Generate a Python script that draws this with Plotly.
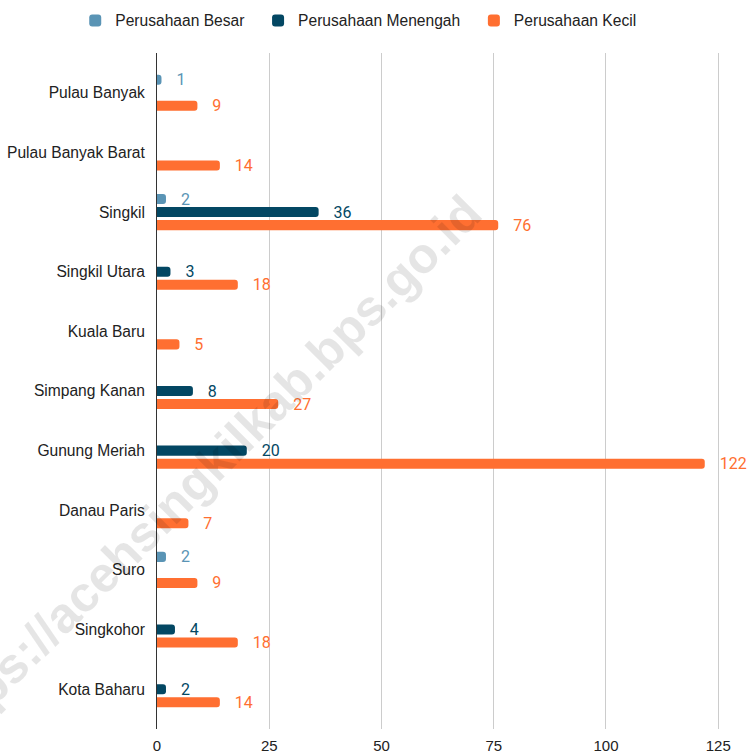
import plotly.graph_objects as go

# data
kecamatan = ["Pulau Banyak", "Pulau Banyak Barat", "Singkil", "Singkil Utara", "Kuala Baru",
             "Simpang Kanan", "Gunung Meriah", "Danau Paris", "Suro", "Singkohor", "Kota Baharu"]
besar = [1, None, 2, None, None, None, None, None, 2, None, None]
menengah = [None, None, 36, 3, None, 8, 20, None, None, 4, 2]
kecil = [9, 14, 76, 18, 5, 27, 122, 7, 9, 18, 14]

series = [
    ("Perusahaan Besar", besar, "#5A94B5"),
    ("Perusahaan Menengah", menengah, "#034763"),
    ("Perusahaan Kecil", kecil, "#FF6F31"),
]

fig = go.Figure()
for name, vals, col in series:
    fig.add_trace(go.Bar(
        y=kecamatan, x=vals, name=name + "\u00a0\u00a0", orientation="h",
        marker=dict(color=col, line=dict(width=0)),
        text=["   " + str(v) if v is not None else "" for v in vals],
        textposition="outside", cliponaxis=False, constraintext="none",
        textfont=dict(family="Roboto", size=16, color=col),
    ))

fig.update_layout(
    width=751, height=753,
    margin=dict(l=157, r=0, t=53, b=24),
    plot_bgcolor="white", paper_bgcolor="white",
    barmode="group", bargap=0.345, bargroupgap=0.23, barcornerradius=3,
    font=dict(family="Liberation Sans, Arial", size=15.6, color="#222"),
    legend=dict(orientation="h", xref="container", yref="container",
                x=0.483, y=0.995, xanchor="center", yanchor="top",
                font=dict(size=15.6, color="#222"), itemwidth=30, traceorder="normal"),
    showlegend=True,
)
fig.update_xaxes(range=[0, 132.3], tickvals=[0, 25, 50, 75, 100, 125],
                 showgrid=True, gridcolor="#cccccc", gridwidth=1, zeroline=False,
                 ticklabelstandoff=6, tickfont=dict(size=15, color="#222"))
fig.update_yaxes(range=[10.668, -0.668], showline=True, linecolor="#333", linewidth=1,
                 ticklabelstandoff=8, tickfont=dict(size=15.6, color="#222"))

# watermark
fig.add_annotation(text="<b>https://acehsingkilkab.bps.go.id</b>", xref="paper", yref="paper",
                   x=(203 - 157) / 594, y=1 - (474 - 53) / 676, showarrow=False,
                   xanchor="center", yanchor="middle",
                   textangle=-45, font=dict(family="Liberation Sans, Arial", size=50,
                                            color="rgba(0,0,0,0.1)"))

fig.write_html("out.html", config={"displayModeBar": False},
               post_script="document.body.style.margin='0';")
